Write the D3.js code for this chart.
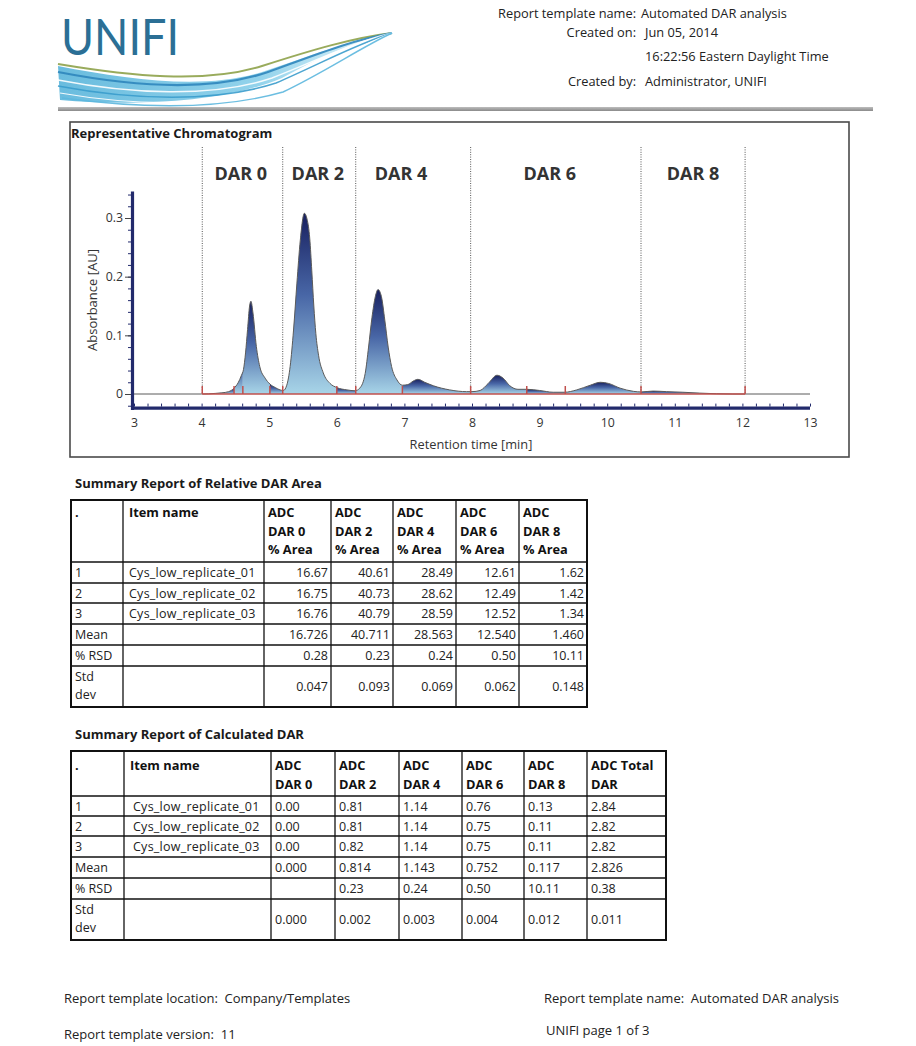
<!DOCTYPE html>
<html><head><meta charset="utf-8">
<script src="https://cdn.jsdelivr.net/npm/d3@7"></script>
<style>
html,body{margin:0;padding:0;background:#fff;}
svg{display:block;font-family:"Open Sans","Noto Sans",sans-serif;}
svg text{white-space:pre;}
</style></head><body>
<svg id="page" width="916" height="1046"></svg>
<script>
// ---------------- DATA ----------------
const headerLabels = ["Report template name:", "Created on:", "", "Created by:"];
const headerValues = ["Automated DAR analysis", "Jun 05, 2014", "16:22:56 Eastern Daylight Time", "Administrator, UNIFI"];

const timeTicks = [3, 4, 5, 6, 7, 8, 9, 10, 11, 12, 13];
const absTicks = [0, 0.1, 0.2, 0.3];
const darLabels = ["DAR 0", "DAR 2", "DAR 4", "DAR 6", "DAR 8"];
const darLabelTimes = [4.58, 5.72, 6.95, 9.15, 11.27];
const darBounds = [4.01, 5.20, 6.28, 7.98, 10.50, 12.04];
const integrationMarks = [4.01, 4.48, 4.61, 5.01, 5.20, 6.00, 6.28, 6.97, 7.98, 8.81, 9.38, 10.50, 12.04];

const traceTime = [3.0, 4.0, 4.2, 4.3, 4.4, 4.48, 4.54, 4.59, 4.62, 4.65, 4.68, 4.71, 4.73, 4.76, 4.81, 4.86, 4.94, 5.01, 5.09, 5.16, 5.21, 5.26, 5.31, 5.36, 5.41, 5.46, 5.52, 5.56, 5.60, 5.63, 5.66, 5.69, 5.73, 5.80, 5.90, 6.00, 6.15, 6.27, 6.34, 6.42, 6.47, 6.52, 6.57, 6.61, 6.66, 6.71, 6.76, 6.81, 6.89, 6.97, 7.05, 7.13, 7.20, 7.30, 7.43, 7.67, 7.92, 8.00, 8.12, 8.24, 8.37, 8.46, 8.56, 8.68, 8.81, 9.00, 9.20, 9.37, 9.55, 9.75, 9.90, 10.02, 10.19, 10.39, 10.50, 10.68, 10.88, 11.12, 11.37, 11.86, 13.0];
const traceAbs = [0, 0, 0.001, 0.002, 0.004, 0.010, 0.019, 0.032, 0.042, 0.070, 0.110, 0.150, 0.158, 0.138, 0.081, 0.047, 0.027, 0.017, 0.011, 0.007, 0.006, 0.015, 0.047, 0.109, 0.189, 0.262, 0.308, 0.298, 0.265, 0.210, 0.150, 0.103, 0.066, 0.036, 0.018, 0.011, 0.007, 0.0055, 0.010, 0.035, 0.080, 0.130, 0.166, 0.178, 0.166, 0.126, 0.080, 0.047, 0.024, 0.015, 0.016, 0.022, 0.025, 0.020, 0.014, 0.007, 0.004, 0.004, 0.006, 0.018, 0.032, 0.027, 0.014, 0.008, 0.008, 0.006, 0.003, 0.003, 0.007, 0.015, 0.020, 0.018, 0.010, 0.0045, 0.0035, 0.005, 0.004, 0.003, 0.0015, 0, 0];

const t1Header = [["."], ["Item name"], ["ADC", "DAR 0", "% Area"], ["ADC", "DAR 2", "% Area"], ["ADC", "DAR 4", "% Area"], ["ADC", "DAR 6", "% Area"], ["ADC", "DAR 8", "% Area"]];
const rowLabels = ["1", "2", "3", "Mean", "% RSD", "Std\ndev"];
const itemNames = ["Cys_low_replicate_01", "Cys_low_replicate_02", "Cys_low_replicate_03", "", "", ""];
const t1Dar0 = ["16.67", "16.75", "16.76", "16.726", "0.28", "0.047"];
const t1Dar2 = ["40.61", "40.73", "40.79", "40.711", "0.23", "0.093"];
const t1Dar4 = ["28.49", "28.62", "28.59", "28.563", "0.24", "0.069"];
const t1Dar6 = ["12.61", "12.49", "12.52", "12.540", "0.50", "0.062"];
const t1Dar8 = ["1.62", "1.42", "1.34", "1.460", "10.11", "0.148"];

const t2Header = [["."], ["Item name"], ["ADC", "DAR 0"], ["ADC", "DAR 2"], ["ADC", "DAR 4"], ["ADC", "DAR 6"], ["ADC", "DAR 8"], ["ADC Total", "DAR"]];
const t2Dar0 = ["0.00", "0.00", "0.00", "0.000", "", "0.000"];
const t2Dar2 = ["0.81", "0.81", "0.82", "0.814", "0.23", "0.002"];
const t2Dar4 = ["1.14", "1.14", "1.14", "1.143", "0.24", "0.003"];
const t2Dar6 = ["0.76", "0.75", "0.75", "0.752", "0.50", "0.004"];
const t2Dar8 = ["0.13", "0.11", "0.11", "0.117", "10.11", "0.012"];
const t2Total = ["2.84", "2.82", "2.82", "2.826", "0.38", "0.011"];

const footerLeft = ["Report template location:  Company/Templates", "Report template version:  11"];
const footerRight = ["Report template name:  Automated DAR analysis", "UNIFI page 1 of 3"];

// ---------------- DRAW ----------------
const svg = d3.select("#page");
const defs = svg.append("defs");
const TXT = "#222";

// ---- logo ----
const swG = defs.append("linearGradient").attr("id", "swoosh").attr("x1", 0).attr("x2", 1).attr("y1", 0).attr("y2", 0);
swG.append("stop").attr("offset", 0).attr("stop-color", "#4fb0d8");
swG.append("stop").attr("offset", 0.6).attr("stop-color", "#7fcbe8");
swG.append("stop").attr("offset", 1).attr("stop-color", "#e4f5fb");
const logo = svg.append("g");
logo.append("path").attr("d", "M58,66 C130,80 205,90 262,72 C310,56 350,40 392,33 C352,42 318,58 282,78 C220,104 130,106 60,100 Z")
  .attr("fill", "url(#swoosh)").attr("opacity", 0.85);
const swLines = [
  {d: "M58,64 C130,76 205,84 262,66 C312,50 352,38 392,33", c: "#8ea24a", w: 2},
  {d: "M58,72 C130,86 210,92 268,72 C315,55 352,40 392,33", c: "#2f86bd", w: 2.2},
  {d: "M58,80 C130,94 212,98 272,78 C318,60 354,42 392,33", c: "#ffffff", w: 1.5},
  {d: "M58,86 C132,100 215,103 276,83 C320,64 356,44 392,33", c: "#3a9ccc", w: 1.6},
  {d: "M60,93 C135,106 218,107 280,88 C322,68 358,46 392,33", c: "#ffffff", w: 1.2},
  {d: "M62,98 C138,108 220,110 283,92 C325,72 360,48 392,33", c: "#5cb7de", w: 1.4}
];
logo.selectAll("path.sw").data(swLines).enter().append("path").attr("class", "sw")
  .attr("d", d => d.d).attr("fill", "none").attr("stroke", d => d.c).attr("stroke-width", d => d.w).attr("opacity", 0.9);
logo.append("text").attr("x", 61).attr("y", 55).attr("font-family", "Lato, 'Open Sans', sans-serif")
  .attr("font-size", 50).attr("font-weight", 400).attr("fill", "#2b6f95")
  .attr("textLength", 118).attr("lengthAdjust", "spacingAndGlyphs").text("UNIFI");

// ---- header text ----
const hdrY = [18, 37, 61, 86];
const HF = 12.8;
headerLabels.forEach((t, i) => {
  if (t) svg.append("text").attr("x", 636).attr("y", hdrY[i]).attr("text-anchor", "end").attr("font-size", HF).attr("fill", TXT).text(t);
});
headerValues.forEach((t, i) => {
  svg.append("text").attr("x", i === 0 ? 641 : 645).attr("y", hdrY[i]).attr("font-size", HF).attr("fill", TXT).text(t);
});
const ruleG = defs.append("linearGradient").attr("id", "rule").attr("x1", 0).attr("x2", 0).attr("y1", 0).attr("y2", 1);
ruleG.append("stop").attr("offset", 0).attr("stop-color", "#bdbdbd");
ruleG.append("stop").attr("offset", 1).attr("stop-color", "#8a8a8a");
svg.append("rect").attr("x", 58).attr("y", 107).attr("width", 815).attr("height", 4).attr("fill", "url(#rule)");

// ---- chromatogram ----
svg.append("rect").attr("x", 70).attr("y", 122).attr("width", 779).attr("height", 335)
  .attr("fill", "#fff").attr("stroke", "#4a4a4a").attr("stroke-width", 1.6);
svg.append("text").attr("x", 71).attr("y", 138).attr("font-size", 13).attr("font-weight", 700).attr("fill", "#1a1a1a").text("Representative Chromatogram");

const x = d3.scaleLinear().domain([3, 13]).range([134, 810]);
const y = d3.scaleLinear().domain([0, 0.3]).range([394, 218]);
const yTop = 0.345, yBot = -0.024;
const NAVY = "#222a6c";

const pts = traceTime.map((t, i) => [t, traceAbs[i]]);

// dotted DAR boundaries
svg.append("g").selectAll("line").data(darBounds).enter().append("line")
  .attr("x1", d => x(d)).attr("x2", d => x(d)).attr("y1", 147).attr("y2", y(0))
  .attr("stroke", "#555").attr("stroke-width", 1).attr("stroke-dasharray", "1,1.4");

svg.append("g").selectAll("text").data(darLabels).enter().append("text")
  .attr("x", (d, i) => x(darLabelTimes[i])).attr("y", 180).attr("text-anchor", "middle")
  .attr("font-size", 18).attr("font-weight", 700).attr("fill", "#333").text(d => d);

// filled integration segments
const area = d3.area().x(d => x(d[0])).y0(y(0)).y1(d => y(d[1])).curve(d3.curveMonotoneX);
const line = d3.line().x(d => x(d[0])).y(d => y(d[1])).curve(d3.curveMonotoneX);
const segG = svg.append("g");
for (let i = 0; i < integrationMarks.length - 1; i++) {
  const a = integrationMarks[i], b = integrationMarks[i + 1];
  const inSeg = pts.filter(p => p[0] >= a - 0.05 && p[0] <= b + 0.05);
  const mx = d3.max(inSeg, p => p[1]);
  const g = defs.append("linearGradient").attr("id", "seg" + i).attr("gradientUnits", "userSpaceOnUse")
    .attr("x1", 0).attr("x2", 0).attr("y1", y(mx)).attr("y2", y(0));
  g.append("stop").attr("offset", 0).attr("stop-color", "#18205f");
  g.append("stop").attr("offset", 0.45).attr("stop-color", "#4866a6");
  g.append("stop").attr("offset", 1).attr("stop-color", "#a8d5e8");
  defs.append("clipPath").attr("id", "clip" + i).append("rect")
    .attr("x", x(a)).attr("y", 140).attr("width", x(b) - x(a)).attr("height", y(0) - 140);
  segG.append("path").datum(pts).attr("d", area).attr("fill", "url(#seg" + i + ")").attr("clip-path", "url(#clip" + i + ")");
}
// trace
svg.append("path").datum(pts).attr("d", line).attr("fill", "none").attr("stroke", "#5a5a5a").attr("stroke-width", 1);
// red baseline and integration marks
svg.append("line").attr("x1", x(integrationMarks[0])).attr("x2", x(integrationMarks[integrationMarks.length - 1]))
  .attr("y1", y(0)).attr("y2", y(0)).attr("stroke", "#c0504d").attr("stroke-width", 1.5);
svg.append("g").selectAll("line").data(integrationMarks).enter().append("line")
  .attr("x1", d => x(d)).attr("x2", d => x(d)).attr("y1", y(0)).attr("y2", y(0) - 8)
  .attr("stroke", "#c0504d").attr("stroke-width", 1.5);

// axes bars
svg.append("line").attr("x1", 132.5).attr("x2", 132.5).attr("y1", y(yTop)).attr("y2", y(yBot) + 2)
  .attr("stroke", NAVY).attr("stroke-width", 3.2);
svg.append("line").attr("x1", 131).attr("x2", x(13)).attr("y1", y(yBot)).attr("y2", y(yBot))
  .attr("stroke", NAVY).attr("stroke-width", 3.4);

// x axis via d3
const AF = 12.3;
const xMinor = d3.range(3, 13.001, 0.2).map(v => +v.toFixed(1));
const xAxisMinor = d3.axisTop(x).tickValues(xMinor).tickSize(3).tickFormat("");
const gxm = svg.append("g").attr("transform", `translate(0,${y(yBot) - 1.5})`).call(xAxisMinor);
gxm.select(".domain").remove();
gxm.selectAll("line").attr("stroke", NAVY).attr("stroke-width", 1);
const xAxis = d3.axisBottom(x).tickValues(timeTicks).tickSize(0).tickPadding(9).tickFormat(d3.format("d"));
const gx = svg.append("g").attr("transform", `translate(0,${y(yBot) + 1})`).call(xAxis);
gx.select(".domain").remove();
gx.selectAll("text").attr("font-size", AF).attr("fill", "#333").attr("font-family", "'Open Sans', sans-serif");

// y axis via d3
const yMinor = d3.range(-0.02, 0.341, 0.02).map(v => +v.toFixed(2));
const yAxisMinor = d3.axisLeft(y).tickValues(yMinor).tickSize(3).tickFormat("");
const gym = svg.append("g").attr("transform", "translate(131,0)").call(yAxisMinor);
gym.select(".domain").remove();
gym.selectAll("line").attr("stroke", NAVY).attr("stroke-width", 1);
const yAxis = d3.axisLeft(y).tickValues(absTicks).tickSize(6).tickPadding(2).tickFormat(d => d === 0 ? "0" : d3.format(".1f")(d));
const gy = svg.append("g").attr("transform", "translate(131,0)").call(yAxis);
gy.select(".domain").remove();
gy.selectAll("line").attr("stroke", "#444").attr("stroke-width", 1);
gy.selectAll("text").attr("font-size", AF).attr("fill", "#333").attr("font-family", "'Open Sans', sans-serif");

svg.append("text").attr("transform", "translate(97,300) rotate(-90)").attr("text-anchor", "middle")
  .attr("font-size", 13).attr("fill", "#333").text("Absorbance [AU]");
svg.append("text").attr("x", 471).attr("y", 449).attr("text-anchor", "middle")
  .attr("font-size", 12.8).attr("fill", "#333").text("Retention time [min]");

// ---- tables ----
const BF = 12.5, HB = 12.8;
function drawTable(title, titleY, xEdges, yEdges, header, cols, numAlign, headerBase, itemPad) {
  const g = svg.append("g");
  g.append("text").attr("x", 75).attr("y", titleY).attr("font-size", 13).attr("font-weight", 700).attr("fill", "#1a1a1a").text(title);
  header.forEach((lines, c) => {
    lines.forEach((t, k) => {
      g.append("text").attr("x", xEdges[c] + (c === 1 ? 6 : 4)).attr("y", headerBase + k * 18.5)
        .attr("font-size", HB).attr("font-weight", 700).attr("fill", "#111").text(t);
    });
  });
  rowLabels.forEach((lab, r) => {
    const top = yEdges[r + 1], bot = yEdges[r + 2];
    const mid = (top + bot) / 2;
    const parts = lab.split("\n");
    if (parts.length > 1) {
      parts.forEach((p, k) => g.append("text").attr("x", xEdges[0] + 4).attr("y", top + 15 + k * 18)
        .attr("font-size", BF).attr("fill", TXT).text(p));
    } else {
      g.append("text").attr("x", xEdges[0] + 4).attr("y", mid + 4.5).attr("font-size", BF).attr("fill", TXT).text(lab);
    }
    if (itemNames[r]) g.append("text").attr("x", xEdges[1] + itemPad).attr("y", mid + 4.5).attr("font-size", BF)
      .attr("letter-spacing", 0.25).attr("fill", TXT).text(itemNames[r]);
    cols.forEach((col, c) => {
      const v = col[r];
      if (!v) return;
      const xl = xEdges[c + 2], xr = xEdges[c + 3];
      g.append("text").attr("x", numAlign === "end" ? xr - 3 : xl + 4).attr("y", mid + 4.5)
        .attr("text-anchor", numAlign).attr("font-size", BF).attr("fill", TXT).text(v);
    });
  });
  const x0 = xEdges[0], x1 = xEdges[xEdges.length - 1], y0 = yEdges[0], y1 = yEdges[yEdges.length - 1];
  g.selectAll("line.h").data(yEdges.slice(1, -1)).enter().append("line")
    .attr("x1", x0).attr("x2", x1).attr("y1", d => d).attr("y2", d => d).attr("stroke", "#111").attr("stroke-width", 1.3);
  g.selectAll("line.v").data(xEdges.slice(1, -1)).enter().append("line")
    .attr("x1", d => d).attr("x2", d => d).attr("y1", y0).attr("y2", y1).attr("stroke", "#111").attr("stroke-width", 1.3);
  g.append("rect").attr("x", x0).attr("y", y0).attr("width", x1 - x0).attr("height", y1 - y0)
    .attr("fill", "none").attr("stroke", "#111").attr("stroke-width", 2);
}

drawTable("Summary Report of Relative DAR Area", 488,
  [71, 123, 264, 331, 393, 456, 519, 587],
  [500, 562, 583, 603, 624, 645, 666, 707],
  t1Header, [t1Dar0, t1Dar2, t1Dar4, t1Dar6, t1Dar8], "end", 517, 6);

drawTable("Summary Report of Calculated DAR", 739,
  [71, 124, 271, 335, 399, 462, 524, 587, 666],
  [751, 796, 816, 836, 857, 878, 899, 940],
  t2Header, [t2Dar0, t2Dar2, t2Dar4, t2Dar6, t2Dar8, t2Total], "start", 770, 9);

// ---- footer ----
const FF = 13;
svg.append("text").attr("x", 64).attr("y", 1003).attr("font-size", FF).attr("fill", TXT).text(footerLeft[0]);
svg.append("text").attr("x", 64).attr("y", 1039).attr("font-size", FF).attr("fill", TXT).text(footerLeft[1]);
svg.append("text").attr("x", 544).attr("y", 1003).attr("font-size", FF).attr("fill", TXT).text(footerRight[0]);
svg.append("text").attr("x", 546).attr("y", 1035).attr("font-size", FF).attr("fill", TXT).text(footerRight[1]);
</script>
</body></html>
